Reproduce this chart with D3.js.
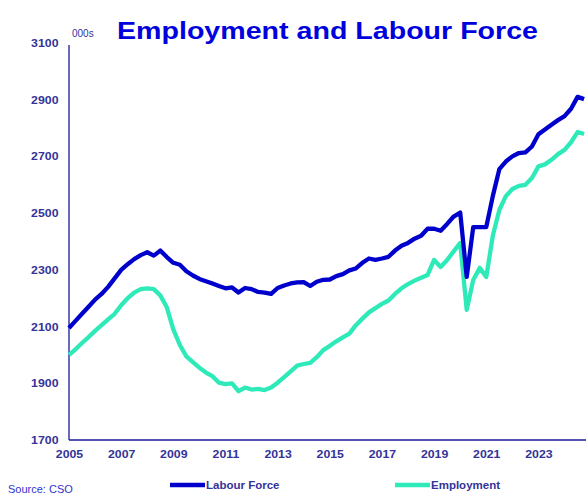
<!DOCTYPE html>
<html>
<head>
<meta charset="utf-8">
<script src="https://cdn.jsdelivr.net/npm/d3@7"></script>
<style>
  body { margin: 0; background: #fff; }
  svg { display: block; font-family: "Liberation Sans", Arial, sans-serif; }
  .tick text { transform-box: fill-box; transform-origin: center; transform: scaleX(1.12); }
</style>
</head>
<body>
<div id="chart"></div>
<script>
// Employment and Labour Force - quarterly, 000s (Source: CSO)

const firstYear = 2005;
// quarters 2005Q1 .. 2024Q4
const quarters = d3.range(80).map(i => `${firstYear + Math.floor(i / 4)}Q${(i % 4) + 1}`);

const labourForce = [
    2095, 2120, 2145, 2170, 2195, 2215, 2240, 2270,
    2300, 2320, 2338, 2352, 2362, 2350, 2368, 2345,
    2325, 2318, 2295, 2280, 2268, 2260, 2252, 2243,
    2235, 2238, 2220, 2236, 2232, 2222, 2220, 2215,
    2236, 2245, 2252, 2256, 2257, 2243, 2258, 2265,
    2266, 2278, 2285, 2298, 2305, 2325, 2340, 2335,
    2340, 2346, 2368, 2385, 2395, 2410, 2420, 2445,
    2445, 2438, 2462, 2488, 2502, 2275, 2451, 2451,
    2451, 2560, 2655, 2682, 2700, 2712, 2714, 2735,
    2778, 2795, 2812, 2828, 2842, 2868, 2910, 2902
];

const employment = [
    2000, 2020, 2042, 2063, 2085, 2105, 2125, 2145,
    2175, 2200, 2220, 2232, 2235, 2232, 2210, 2168,
    2090, 2035, 1995, 1975, 1955, 1938, 1925, 1902,
    1897, 1900, 1872, 1885, 1878, 1880, 1876, 1885,
    1902, 1922, 1942, 1962, 1968, 1972, 1992, 2017,
    2032, 2048, 2062, 2075, 2105, 2128, 2150, 2165,
    2180, 2192, 2215, 2235, 2250, 2262, 2272, 2282,
    2335, 2310, 2335, 2365, 2395, 2159, 2264, 2307,
    2275, 2420, 2511, 2560, 2585, 2596, 2600, 2624,
    2665, 2672, 2688, 2708, 2723, 2750, 2786, 2779
];

const yTicks = [1700, 1900, 2100, 2300, 2500, 2700, 2900, 3100];
const xTicks = [2005, 2007, 2009, 2011, 2013, 2015, 2017, 2019, 2021, 2023];

const seriesNames = ['Labour Force', 'Employment'];
const seriesColors = ['#0000cc', '#2eeab8'];

// Layout
const width = 586;
const height = 497;
const plotLeft = 69;
const plotTop = 43;
const plotBottom = 440;
const textColor = '#333399';

const rows = quarters.map((q, i) => ({
    t: firstYear + i * 0.25,
    lf: labourForce[i],
    emp: employment[i]
}));

const x = d3.scaleLinear().domain([2005, 2025]).range([plotLeft, plotLeft + 20 * 26.08]);
const y = d3.scaleLinear().domain([1700, 3100]).range([plotBottom, plotTop]);

const svg = d3.select('#chart')
    .append('svg')
    .attr('width', width)
    .attr('height', height)
    .attr('viewBox', `0 0 ${width} ${height}`);

// Title
svg.append('text')
    .attr('x', 117)
    .attr('y', 39)
    .attr('textLength', 421)
    .attr('lengthAdjust', 'spacingAndGlyphs')
    .attr('font-size', 24)
    .attr('font-weight', 'bold')
    .attr('fill', '#0000dd')
    .text('Employment and Labour Force');

svg.append('text')
    .attr('x', 72)
    .attr('y', 37)
    .attr('font-size', 10)
    .attr('fill', textColor)
    .text('000s');

// Axes
const yAxis = svg.append('g')
    .attr('transform', `translate(${plotLeft},0)`)
    .call(d3.axisLeft(y).tickValues(yTicks).tickSize(0).tickPadding(12).tickFormat(d3.format('d')));

const xAxis = svg.append('g')
    .attr('transform', `translate(0,${plotBottom})`)
    .call(d3.axisBottom(x).tickValues(xTicks).tickSize(0).tickPadding(10).tickFormat(d3.format('d')));

[yAxis, xAxis].forEach(ax => {
    ax.select('.domain').attr('stroke', '#1a1a99').attr('stroke-width', 1.3);
    ax.selectAll('.tick text')
        .attr('font-size', 11)
        .attr('font-weight', 'bold')
        .attr('font-family', '"Liberation Sans", Arial, sans-serif')
        .attr('fill', textColor);
});
yAxis.select('.domain').attr('d', `M0,${plotBottom}V${plotTop + 2}`);
xAxis.select('.domain').attr('d', `M${plotLeft},0H${width}`);

// Lines
const plot = svg.append('g');
const keys = ['lf', 'emp'];

keys.slice().reverse().forEach(k => {
    const i = keys.indexOf(k);
    plot.append('path')
        .datum(rows)
        .attr('fill', 'none')
        .attr('stroke', seriesColors[i])
        .attr('stroke-width', 4.3)
        .attr('stroke-linejoin', 'round')
        .attr('d', d3.line().x(d => x(d.t)).y(d => y(d[k])));
});

// Legend
const legendX = [170, 395];
seriesNames.forEach((name, i) => {
    const lg = svg.append('g').attr('transform', `translate(${legendX[i]},485)`);
    lg.append('line')
        .attr('x1', 0).attr('x2', 35)
        .attr('stroke', seriesColors[i])
        .attr('stroke-width', 4.5);
    lg.append('text')
        .attr('x', 36)
        .attr('y', 4)
        .attr('font-size', 11.5)
        .attr('font-weight', 'bold')
        .attr('fill', textColor)
        .text(name);
});

svg.append('text')
    .attr('x', 8)
    .attr('y', 493)
    .attr('font-size', 11)
    .attr('fill', '#3333cc')
    .text('Source: CSO');
</script>
</body>
</html>
